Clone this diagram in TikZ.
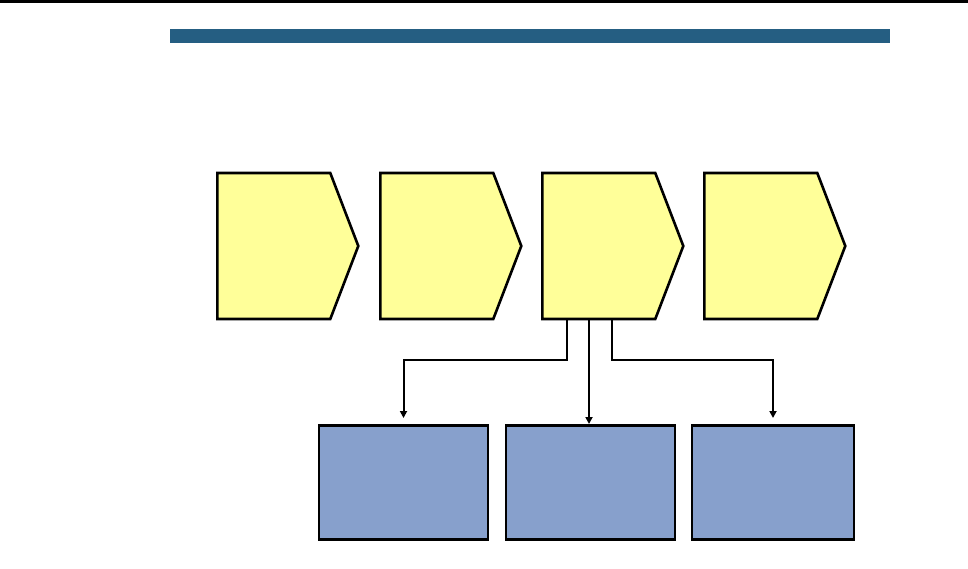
\documentclass[tikz,border=0pt]{standalone}
\usetikzlibrary{shapes.symbols,arrows.meta,calc}
\definecolor{barblue}{RGB}{37,94,130}
\definecolor{stepyellow}{RGB}{255,255,153}
\definecolor{boxblue}{RGB}{135,160,204}
\begin{document}
\begin{tikzpicture}[x=1pt,y=-1pt,
  stepshape/.style={signal, signal to=east, signal pointer angle=138,
    minimum width=141pt, minimum height=146pt, inner sep=0pt,
    draw=black, line width=2.6pt, fill=stepyellow, anchor=west, line join=miter},
  subbox/.style={rectangle, draw=black, line width=2.6pt, fill=boxblue,
    minimum height=114pt, inner sep=0pt, anchor=north},
  conn/.style={draw=black, line width=2pt, -{Triangle[length=7pt,width=7pt]}}]
\useasboundingbox (0,0) rectangle (968,569);
\fill[black] (0,0) rectangle (968,3);
\fill[barblue] (170,29) rectangle (890,43);
\node[stepshape] (p1) at (216,246) {};
\node[stepshape] (p2) at (379,246) {};
\node[stepshape] (p3) at (541,246) {};
\node[stepshape] (p4) at (703,246) {};
\node[subbox, minimum width=169pt] (b1) at (403.5,424) {};
\node[subbox, minimum width=169pt] (b2) at (590.5,424) {};
\node[subbox, minimum width=162pt] (b3) at (773,424) {};
\coordinate (s1) at ($(p3.south west)+(26,-1.3)$);
\coordinate (s2) at ($(p3.south west)+(48,-1.3)$);
\coordinate (s3) at ($(p3.south west)+(71,-1.3)$);
\draw[conn] (s1) |- ($(b1.north)+(0,-64)$) -- ($(b1.north)+(0,-6)$);
\draw[conn] (s2) -- ($(b2.north)+(s2)-(b2.north)+(0,105)$);
\draw[conn] (s3) |- ($(b3.north)+(0,-64)$) -- ($(b3.north)+(0,-6)$);
\end{tikzpicture}
\end{document}
